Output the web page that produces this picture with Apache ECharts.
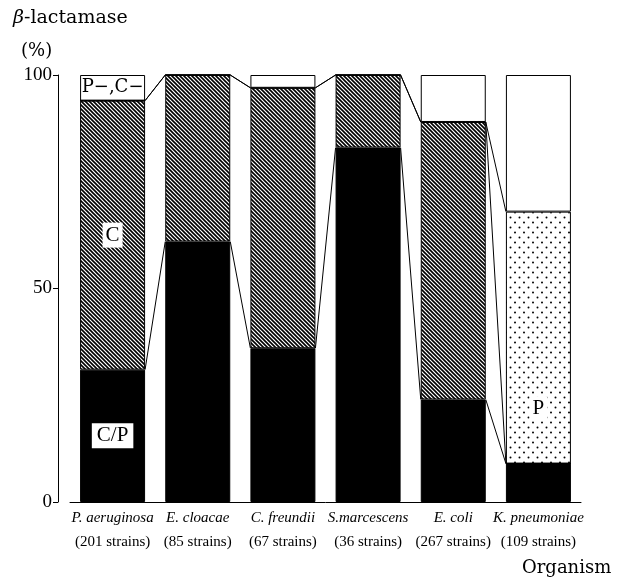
<!DOCTYPE html>
<html>
<head>
<meta charset="utf-8">
<script src="https://cdn.jsdelivr.net/npm/echarts@6/dist/echarts.min.js"></script>
<style>
  html, body { margin: 0; padding: 0; background: #fff; }
  #chart { width: 619px; height: 587px; }
</style>
</head>
<body>
<div id="chart"></div>
<script>
// Organisms and number of strains tested
const organisms = ['P. aeruginosa', 'E. cloacae', 'C. freundii', 'S.marcescens', 'E. coli', 'K. pneumoniae'];
const strainCounts = [201, 85, 67, 36, 267, 109];

// Share of strains (%) by β-lactamase type
const cpShare   = [31, 61, 36, 83, 24, 9];   // C/P
const cShare    = [63, 39, 61, 17, 65, 0];   // C
const pShare    = [0, 0, 0, 0, 0, 59];       // P
const noneShare = [6, 0, 3, 0, 11, 32];      // P−,C−

// Y axis ticks
const yTicks = [0, 50, 100];

const SERIF = '"Liberation Serif", "DejaVu Serif", serif';
const WIDE_SERIF = '"DejaVu Serif", "Liberation Serif", serif';
const BAR_W = 65;

// Tiled fills: diagonal hatching for C, dot screen for P
function hatchTile() {
  const s = 4;
  const c = document.createElement('canvas');
  c.width = s; c.height = s;
  const ctx = c.getContext('2d');
  ctx.fillStyle = '#fff';
  ctx.fillRect(0, 0, s, s);
  ctx.strokeStyle = '#000';
  ctx.lineWidth = 1.6;
  ctx.beginPath();
  ctx.moveTo(-1, -1); ctx.lineTo(s + 1, s + 1);
  ctx.moveTo(-1, s - 1); ctx.lineTo(1, s + 1);
  ctx.moveTo(s - 1, -1); ctx.lineTo(s + 1, 1);
  ctx.stroke();
  return c;
}

function dotTile() {
  const w = 9, h = 10;
  const c = document.createElement('canvas');
  c.width = w; c.height = h;
  const ctx = c.getContext('2d');
  ctx.fillStyle = '#fff';
  ctx.fillRect(0, 0, w, h);
  ctx.fillStyle = '#000';
  [[2, 2.5], [6.5, 7.5]].forEach(([x, y]) => {
    ctx.beginPath();
    ctx.arc(x, y, 1, 0, Math.PI * 2);
    ctx.fill();
  });
  return c;
}

const chart = echarts.init(document.getElementById('chart'), null, { renderer: 'canvas' });

function boundaries(j) {
  const a = cpShare[j];
  const b = a + cShare[j];
  const c = b + pShare[j];
  return [a, b, c];
}

function labelled(values, idx, label) {
  return values.map((v, i) => (i === idx ? { value: v, label: label } : v));
}

const option = {
  animation: false,
  backgroundColor: '#fff',
  grid: { left: 70, right: 38, top: 75, bottom: 85 },
  xAxis: {
    type: 'category',
    data: organisms,
    axisLine: { show: true, lineStyle: { color: '#000', width: 1 } },
    axisTick: { show: false },
    axisLabel: {
      interval: 0,
      margin: 4,
      color: '#000',
      formatter: (v, i) => '{n|' + v + '}\n{s|(' + strainCounts[i] + ' strains)}',
      rich: {
        n: { fontFamily: SERIF, fontStyle: 'italic', fontSize: 15, lineHeight: 24, color: '#000' },
        s: { fontFamily: SERIF, fontSize: 15, lineHeight: 24, color: '#000' }
      }
    }
  },
  yAxis: {
    type: 'value',
    min: yTicks[0],
    max: yTicks[yTicks.length - 1],
    interval: 50,
    offset: 12,
    splitLine: { show: false },
    axisLine: { show: true, lineStyle: { color: '#000', width: 1 } },
    axisTick: { show: true, length: 5, lineStyle: { color: '#000' } },
    axisLabel: { color: '#000', fontFamily: SERIF, fontSize: 19, margin: 6 }
  },
  series: [
    {
      name: 'C/P', type: 'bar', stack: 'share', barWidth: BAR_W,
      itemStyle: { color: '#000', borderColor: '#000', borderWidth: 1 },
      data: labelled(cpShare, 0, {
        show: true, position: 'inside', formatter: 'C/P',
        fontFamily: SERIF, fontSize: 21, color: '#000',
        backgroundColor: '#fff', padding: [3, 5, 1, 5]
      })
    },
    {
      name: 'C', type: 'bar', stack: 'share', barWidth: BAR_W,
      itemStyle: { color: { image: hatchTile(), repeat: 'repeat' }, borderColor: '#000', borderWidth: 1 },
      data: labelled(cShare, 0, {
        show: true, position: 'inside', formatter: 'C',
        fontFamily: SERIF, fontSize: 21, color: '#000',
        backgroundColor: '#fff', padding: [3, 3, 1, 3]
      })
    },
    {
      name: 'P', type: 'bar', stack: 'share', barWidth: BAR_W,
      itemStyle: { color: { image: dotTile(), repeat: 'repeat' }, borderColor: '#000', borderWidth: 1 },
      data: labelled(pShare, 5, {
        show: true, position: 'inside', offset: [0, 71], formatter: 'P',
        fontFamily: SERIF, fontSize: 21, color: '#000',
        backgroundColor: '#fff', padding: [3, 3, 1, 3]
      })
    },
    {
      name: 'P−,C−', type: 'bar', stack: 'share', barWidth: BAR_W,
      itemStyle: { color: '#fff', borderColor: '#000', borderWidth: 1 },
      data: labelled(noneShare, 0, {
        show: true, position: 'inside', formatter: 'P−,C−',
        fontFamily: WIDE_SERIF, fontSize: 18, color: '#000'
      })
    },
    {
      // lines joining matching boundaries of neighbouring bars
      name: 'links', type: 'custom', silent: true, z: 5,
      data: organisms.slice(0, -1).map((_, i) => [i, 0]),
      encode: { x: 0, y: 1 },
      renderItem: (params, api) => {
        const i = api.value(0);
        const half = BAR_W / 2;
        const b0 = boundaries(i);
        const b1 = boundaries(i + 1);
        const children = [];
        for (let k = 0; k < b0.length; k++) {
          if (b0[k] >= 100 && b1[k] >= 100) continue;
          const p0 = api.coord([i, b0[k]]);
          const p1 = api.coord([i + 1, b1[k]]);
          children.push({
            type: 'line',
            shape: { x1: p0[0] + half, y1: p0[1], x2: p1[0] - half, y2: p1[1] },
            style: { stroke: '#000', lineWidth: 1 }
          });
        }
        return { type: 'group', children };
      }
    }
  ],
  graphic: [
    {
      type: 'text', left: 13, top: 9,
      style: {
        text: '{b|β}-lactamase',
        fill: '#000',
        font: '19px ' + WIDE_SERIF,
        rich: { b: { fontFamily: WIDE_SERIF, fontStyle: 'italic', fontSize: 19, fill: '#000' } }
      }
    },
    {
      type: 'text', left: 21, top: 42,
      style: { text: '(%)', fill: '#000', font: '18px ' + WIDE_SERIF }
    },
    {
      type: 'text', left: 522, top: 559,
      style: { text: 'Organism', fill: '#000', font: '18px ' + WIDE_SERIF }
    }
  ]
};

chart.setOption(option);
</script>
</body>
</html>
